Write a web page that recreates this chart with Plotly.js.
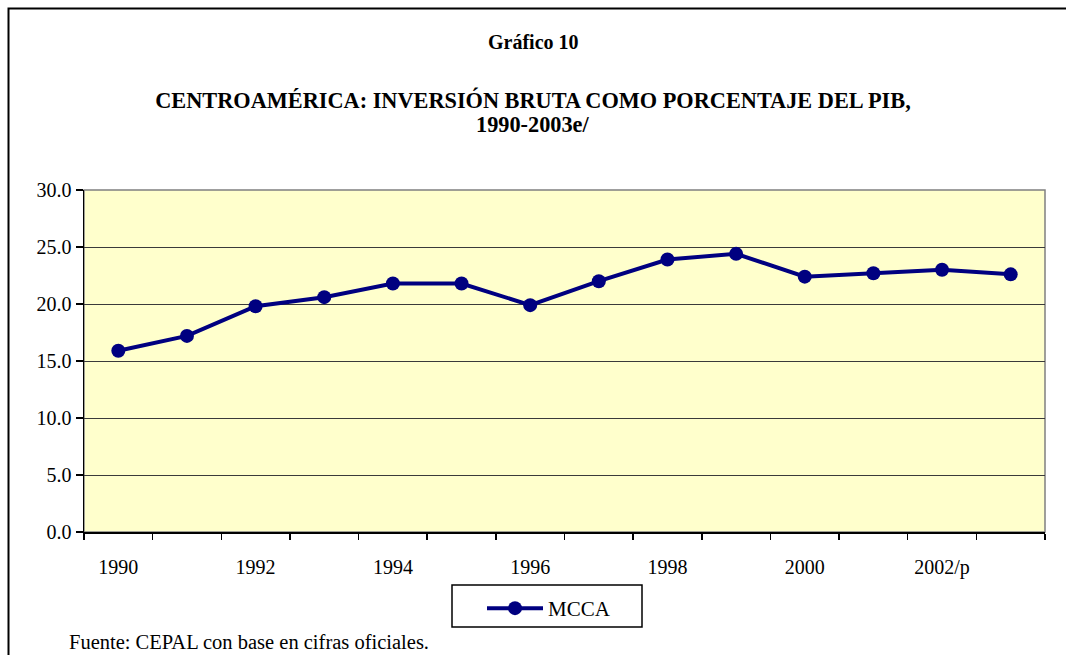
<!DOCTYPE html>
<html>
<head>
<meta charset="utf-8">
<script src="https://cdn.plot.ly/plotly-3.0.1.min.js"></script>
<style>html,body{margin:0;padding:0;background:#fff;}#chart{width:1066px;height:655px;}</style>
</head>
<body>
<div id="chart"></div>
<script>
const years = [1990,1991,1992,1993,1994,1995,1996,1997,1998,1999,2000,2001,2002,2003];
const mcca = [15.9,17.2,19.8,20.6,21.8,21.8,19.9,22.0,23.9,24.4,22.4,22.7,23.0,22.6];
const tickYears = [1990,1992,1994,1996,1998,2000,2002];
const tickLabels = ['1990','1992','1994','1996','1998','2000','2002/p'];
const seriesName = 'MCCA';

const serif = '"Liberation Serif", "Times New Roman", serif';
const navy = '#000080';

const trace = {
  x: years, y: mcca, name: seriesName, type: 'scatter', mode: 'lines+markers',
  line: {color: navy, width: 4},
  marker: {color: navy, size: 14, symbol: 'circle'}
};

const L = 84, R = 1045, T = 190, B = 532, W = 1066, H = 655;
const px2x = p => (p - L) / (R - L);
const py2y = p => (B - p) / (B - T);

const layout = {
  width: W, height: H,
  margin: {l: L, r: W - R, t: T, b: H - B, pad: 0},
  paper_bgcolor: '#ffffff',
  plot_bgcolor: '#FFFFCC',
  font: {family: serif, size: 20, color: '#000'},
  showlegend: true,
  legend: {
    orientation: 'h', x: px2x(482), xanchor: 'left', y: py2y(588), yanchor: 'top',
    borderwidth: 0, bgcolor: 'rgba(0,0,0,0)', itemwidth: 56,
    font: {family: serif, size: 21, color: '#000'}
  },
  title: {
    text: '<b>CENTROAMÉRICA: INVERSIÓN BRUTA COMO PORCENTAJE DEL PIB,</b>',
    x: 0.5, xanchor: 'center', yref: 'container', y: (H - 100) / H, yanchor: 'middle',
    font: {family: serif, size: 22.3, color: '#000'}
  },
  xaxis: {
    range: [1989.5, 2003.5], fixedrange: true,
    tickmode: 'array', tickvals: tickYears, ticktext: tickLabels,
    ticks: '', ticklabelstandoff: 16,
    showgrid: false, zeroline: false,
    showline: true, linecolor: '#000', linewidth: 1.5,
    tickfont: {family: serif, size: 20, color: '#000'},
    minor: {ticks: 'outside', ticklen: 6, tickwidth: 1.5, tickcolor: '#000', tick0: 1989.5, dtick: 1, showgrid: false}
  },
  yaxis: {
    range: [0, 30], dtick: 5, tickformat: '.1f', fixedrange: true,
    ticks: 'outside', ticklen: 7, tickwidth: 1.5, tickcolor: '#000',
    showgrid: true, gridcolor: '#3a3a3a', gridwidth: 1, zeroline: false,
    showline: true, linecolor: '#000', linewidth: 1.5,
    tickfont: {family: serif, size: 20, color: '#000'}
  },
  shapes: [
    {type: 'rect', xref: 'paper', yref: 'paper', x0: 0, x1: 1, y0: 0, y1: 1,
     line: {color: '#808080', width: 1.5}, layer: 'below'},
    {type: 'rect', xref: 'paper', yref: 'paper', x0: px2x(8.5), x1: px2x(1075), y0: py2y(8.5), y1: py2y(670),
     line: {color: '#000', width: 2}},
    {type: 'rect', xref: 'paper', yref: 'paper', x0: px2x(452), x1: px2x(642), y0: py2y(585), y1: py2y(627),
     line: {color: '#000', width: 1.5}}
  ],
  annotations: [
    {text: '<b>Gráfico 10</b>', xref: 'paper', yref: 'paper', x: px2x(533), y: py2y(42),
     xanchor: 'center', yanchor: 'middle', showarrow: false, font: {family: serif, size: 20, color: '#000'}},
    {text: '<b>1990-2003e/</b>', xref: 'paper', yref: 'paper', x: px2x(533), y: py2y(124),
     xanchor: 'center', yanchor: 'middle', showarrow: false, font: {family: serif, size: 22.3, color: '#000'}},
    {text: 'Fuente: CEPAL con base en cifras oficiales.', xref: 'paper', yref: 'paper', x: px2x(67), y: py2y(642),
     xanchor: 'left', yanchor: 'middle', showarrow: false, font: {family: serif, size: 20.5, color: '#000'}}
  ]
};

Plotly.newPlot('chart', [trace], layout, {displayModeBar: false, staticPlot: true});
</script>
</body>
</html>
